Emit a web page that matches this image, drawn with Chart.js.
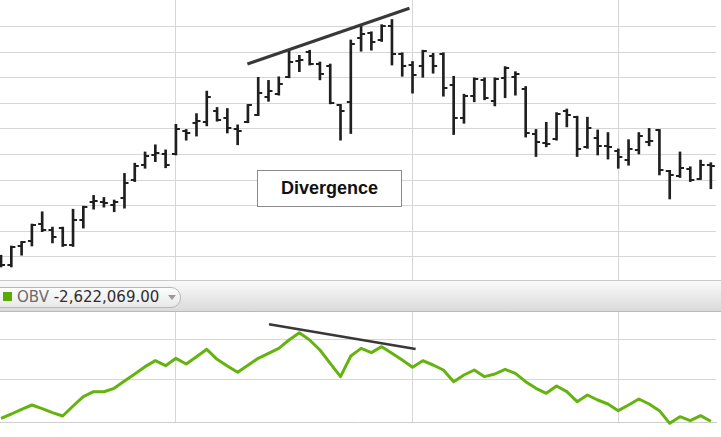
<!DOCTYPE html>
<html><head><meta charset="utf-8">
<script src="https://cdn.jsdelivr.net/npm/chart.js@4.4.1/dist/chart.umd.min.js"></script>
<style>
html,body{margin:0;padding:0;background:#fff;width:721px;height:437px;overflow:hidden;font-family:"DejaVu Sans",sans-serif}
#wrap{position:relative;width:721px;height:437px}
#top{position:absolute;left:0;top:0;width:721px;height:280px}
#sep{position:absolute;left:0;top:280px;width:721px;height:1px;background:#c9c9c9}
#hdr{position:absolute;left:0;top:281px;width:721px;height:30px;background:linear-gradient(#fafafa,#dadada);border-bottom:1px solid #b9b9b9}
#pill{position:absolute;left:-12px;top:6px;width:191px;height:19px;border:1px solid #b8b8b8;border-radius:10px;background:linear-gradient(#fdfdfd,#e8e8e8)}
#sq{position:absolute;left:3px;top:11px;width:9px;height:9px;background:#5aaa00}
#lbl{position:absolute;left:17px;top:7px;height:19px;line-height:19px;font-size:15px;white-space:nowrap}
#lbl .n{color:#6a6a6a}
#lbl .v{color:#2e2e2e}
#arr{position:absolute;left:168px;top:14px;width:0;height:0;border-left:4px solid transparent;border-right:4px solid transparent;border-top:5px solid #9a9a9a}
#bot{position:absolute;left:0;top:312px;width:721px;height:125px}
#dv{position:absolute;left:257px;top:170px;width:143px;height:35px;border:1px solid #8a8a8a;background:#fff;font:bold 18px "Liberation Sans",Arial,sans-serif;line-height:35px;text-align:center;color:#111}
</style></head>
<body><div id="wrap">
<div id="top"><canvas id="c1" width="721" height="280"></canvas></div>
<div id="sep"></div>
<div id="hdr"><div id="pill"></div><div id="sq"></div><div id="lbl"><span class="n">OBV </span><span class="v" id="obvVal"></span></div><div id="arr"></div></div>
<div id="bot"><canvas id="c2" width="721" height="125"></canvas></div>
<div id="dv">Divergence</div>
</div>
<script>
// ---- data ----
const opens  = [20.42,20.33,20.71,20.81,21.14,21.02,21.06,20.73,21.22,21.58,21.58,21.52,21.64,22.00,22.29,22.49,22.51,22.50,22.96,23.11,23.14,23.35,23.21,22.99,23.14,23.28,23.62,23.69,24.02,24.32,24.51,24.27,24.24,23.47,23.53,24.78,24.87,24.74,25.01,24.46,24.25,24.24,24.42,24.47,23.85,23.21,23.64,23.96,23.55,24.00,24.01,23.78,22.90,22.73,22.80,23.36,23.23,22.65,22.83,22.67,22.56,22.40,22.59,22.75,22.98,22.18,22.07,22.22,22.03,22.29];
const highs  = [20.53,20.71,20.80,21.14,21.38,21.08,21.08,21.43,21.49,21.70,21.66,21.61,22.13,22.33,22.55,22.69,22.59,23.09,22.99,23.30,23.74,23.42,23.40,23.08,23.48,24.01,23.95,24.02,24.54,24.44,24.54,24.31,24.27,23.48,24.74,25.03,24.90,25.04,25.14,24.49,24.32,24.54,24.48,24.49,24.03,23.68,24.00,24.00,24.00,24.22,24.12,23.83,22.99,23.13,23.32,23.39,23.25,23.23,22.98,22.93,22.61,22.79,22.93,23.01,22.99,22.19,22.55,22.26,22.39,22.34];
const lows   = [20.30,20.30,20.53,20.71,20.99,20.77,20.70,20.70,21.06,21.43,21.47,21.38,21.45,21.97,22.23,22.36,22.24,22.49,22.78,22.86,23.06,23.15,22.92,22.69,23.12,23.26,23.54,23.66,24.00,24.12,24.25,23.96,23.49,22.78,22.91,24.52,24.54,24.71,24.25,24.03,23.70,24.01,24.09,23.64,22.89,23.11,23.53,23.57,23.45,23.61,23.66,22.84,22.46,22.65,22.78,23.04,22.46,22.62,22.49,22.41,22.23,22.29,22.51,22.67,22.10,21.63,22.05,21.97,22.01,21.83];
const closes = [20.34,20.69,20.79,21.12,21.02,20.88,20.72,21.22,21.48,21.59,21.55,21.58,21.95,22.27,22.48,22.53,22.30,23.00,22.92,23.15,23.62,23.17,23.01,22.95,23.47,23.70,23.74,23.88,24.30,24.34,24.27,24.08,23.50,23.35,24.66,24.85,24.71,25.01,24.46,24.24,24.06,24.53,24.24,23.81,23.21,23.64,23.98,23.61,23.97,24.19,24.07,22.92,22.74,22.71,23.30,23.28,22.61,23.01,22.66,22.65,22.46,22.60,22.87,22.76,22.20,22.10,22.24,22.00,22.29,22.27];
const obv    = [-2439500,-2168700,-1877100,-1606200,-1835400,-2085400,-2293700,-1668700,-1085400,-772900,-780000,-564600,-106200,331200,789600,1164600,852100,1310400,956200,1414600,1872900,1247900,831200,435400,872900,1310400,1622900,1935400,2456200,2914500,2456200,1831200,997900,164600,1456200,1935400,1664600,2039600,1622900,1206200,747900,1164600,893700,581200,-147900,268700,581200,164600,331200,622900,372900,-147900,-564600,-877100,-418700,-772900,-1397900,-981200,-1293700,-1543700,-1960400,-1606200,-1231200,-1543700,-1960400,-2752000,-2335400,-2585400,-2272900,-2622069];
const dateGridIdx    = [17, 40, 60];
const priceGridLines = [20.5,21.0,21.5,22.0,22.5,23.0,23.5,24.0,24.5,25.0];
const obvGridLines   = [0, 2500000];
const priceTrendX = [23.95, 39.7];
const priceTrendY = [24.27, 25.36];
const obvTrendX   = [26.05, 40.3];
const obvTrendY   = [3437500, 1893750];
// ----------------

document.getElementById('obvVal').textContent =
  obv[obv.length-1].toLocaleString('en-US',{minimumFractionDigits:2,maximumFractionDigits:2});

const idx = opens.map((_, i) => i);
const BAR = '#1f1f1f';
function tickImg(side){
  const c = document.createElement('canvas'); c.width = 10; c.height = 2;
  const g = c.getContext('2d'); g.fillStyle = BAR;
  if (side === 'L') g.fillRect(1,0,4,2); else g.fillRect(5,0,4,2);
  return c;
}
const GRID = '#d6d6d6';
function xScale(){
  return {type:'linear', min:-0.1, max:69.5, offset:false,
    grid:{color:GRID, drawTicks:false, offset:false}, border:{display:false}, ticks:{display:false},
    afterBuildTicks: s => { s.ticks = dateGridIdx.map(v => ({value:v})); }};
}
Chart.defaults.animation = false;

new Chart(document.getElementById('c1'), {
  type:'bar',
  data:{datasets:[
    {type:'bar', data: idx.map(i => ({x:i, y:[lows[i], highs[i]]})), backgroundColor:BAR, barThickness:2, borderWidth:0, grouped:false, order:3},
    {type:'line', data: idx.map(i => ({x:i, y:opens[i]})), showLine:false, pointStyle:tickImg('L'), pointRadius:5, order:2},
    {type:'line', data: idx.map(i => ({x:i, y:closes[i]})), showLine:false, pointStyle:tickImg('R'), pointRadius:5, order:2},
    {type:'line', data: priceTrendX.map((x,k) => ({x, y:priceTrendY[k]})), borderColor:'#383838', borderWidth:3, pointRadius:0, clip:false, order:1}
  ]},
  options:{responsive:false, animation:false, events:[],
    layout:{autoPadding:false, padding:{left:0,right:5,top:0,bottom:0}},
    plugins:{legend:{display:false}, tooltip:{enabled:false}},
    scales:{
      x: xScale(),
      y:{type:'linear', min:20.045, max:25.522,
        grid:{color:GRID, drawTicks:false}, border:{display:false}, ticks:{display:false},
        afterBuildTicks: s => { s.ticks = priceGridLines.map(v => ({value:v})); }}
    }}
});

new Chart(document.getElementById('c2'), {
  type:'line',
  data:{datasets:[
    {data: idx.map(i => ({x:i, y:obv[i]})), borderColor:'#64b30f', borderWidth:3, pointRadius:0, tension:0, clip:4, borderJoinStyle:'round'},
    {data: obvTrendX.map((x,k) => ({x, y:obvTrendY[k]})), borderColor:'#383838', borderWidth:2.5, pointRadius:0, clip:false}
  ]},
  options:{responsive:false, animation:false, events:[],
    layout:{autoPadding:false, padding:{left:0,right:5,top:0,bottom:15}},
    plugins:{legend:{display:false}, tooltip:{enabled:false}},
    scales:{
      x: Object.assign(xScale(), {border:{display:true, color:'#cfcfcf', width:1}}),
      y:{type:'linear', min:-2668750, max:4206250,
        grid:{color:GRID, drawTicks:false}, border:{display:false}, ticks:{display:false},
        afterBuildTicks: s => { s.ticks = obvGridLines.map(v => ({value:v})); }}
    }}
});
</script>
</body></html>
